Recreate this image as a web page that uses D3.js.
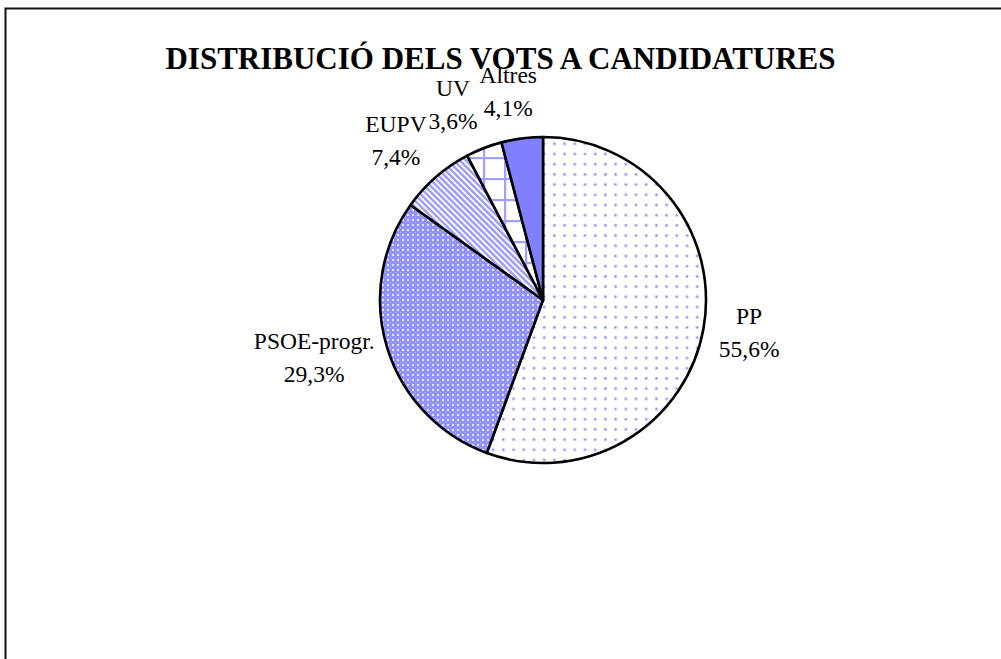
<!DOCTYPE html>
<html>
<head>
<meta charset="utf-8">
<script src="https://cdn.jsdelivr.net/npm/d3@7"></script>
<style>
  body { margin: 0; background: #fff; }
  svg { display: block; }
  text { font-family: "Liberation Serif", "Times New Roman", serif; fill: #000; }
  .title { font-size: 31px; font-weight: bold; }
  .label { font-size: 23.5px; }
</style>
</head>
<body>
<svg width="1001" height="659"></svg>
<script>
const svg = d3.select('svg');
const width = +svg.attr('width');
const height = +svg.attr('height');

// data
const categories = ['PP', 'PSOE-progr.', 'EUPV', 'UV', 'Altres'];
const shares = [55.6, 29.3, 7.4, 3.6, 4.1];
const shareLabels = ['55,6%', '29,3%', '7,4%', '3,6%', '4,1%'];
const patterns = ['dots', 'checks', 'stripes', 'grid', 'solid'];

const blue = '#8080ff';
const cx = 543, cy = 300, radius = 163;

// frame (only top and left edges fall inside the picture)
svg.append('path')
  .attr('d', `M5.5,${height + 5} V8.5 H${width + 5}`)
  .attr('fill', 'none')
  .attr('stroke', '#111')
  .attr('stroke-width', 2);

// fill patterns
const defs = svg.append('defs');

const pDots = defs.append('pattern')
  .attr('id', 'dots').attr('patternUnits', 'userSpaceOnUse')
  .attr('width', 10.2).attr('height', 10.2).attr('x', cx + 4).attr('y', 2);
pDots.append('rect').attr('width', 10.2).attr('height', 10.2).attr('fill', '#fff');
pDots.append('circle').attr('cx', 5).attr('cy', 5).attr('r', 1.8).attr('fill', '#dadaff');
pDots.append('circle').attr('cx', 5).attr('cy', 5).attr('r', 1.0).attr('fill', blue);

const pChecks = defs.append('pattern')
  .attr('id', 'checks').attr('patternUnits', 'userSpaceOnUse')
  .attr('width', 5).attr('height', 5);
pChecks.append('rect').attr('width', 5).attr('height', 5).attr('fill', '#8c8cff');
[[0, 0], [5, 0], [0, 5], [5, 5]].forEach(([x, y]) => {
  pChecks.append('circle').attr('cx', x).attr('cy', y).attr('r', 1.2).attr('fill', '#e8e8ff');
});
pChecks.append('circle').attr('cx', 2.5).attr('cy', 2.5).attr('r', 0.8).attr('fill', '#b4b4ff');

const pStripes = defs.append('pattern')
  .attr('id', 'stripes').attr('patternUnits', 'userSpaceOnUse')
  .attr('width', 4.3).attr('height', 10)
  .attr('patternTransform', 'rotate(-45)');
pStripes.append('rect').attr('width', 4.3).attr('height', 10).attr('fill', '#fff');
pStripes.append('rect').attr('width', 2.4).attr('height', 10).attr('fill', '#9a9aff');

const pGrid = defs.append('pattern')
  .attr('id', 'grid').attr('patternUnits', 'userSpaceOnUse')
  .attr('width', 21).attr('height', 21).attr('x', 3).attr('y', 4);
pGrid.append('rect').attr('width', 21).attr('height', 21).attr('fill', '#fff');
pGrid.append('rect').attr('x', 0).attr('width', 2.2).attr('height', 21).attr('fill', '#a0a0ff');
pGrid.append('rect').attr('y', 0).attr('width', 21).attr('height', 2.2).attr('fill', '#a0a0ff');

const fillFor = p => p === 'solid' ? blue : `url(#${p})`;

// title
svg.append('text')
  .attr('class', 'title')
  .attr('x', 500.5)
  .attr('y', 69)
  .attr('text-anchor', 'middle')
  .text('DISTRIBUCIÓ DELS VOTS A CANDIDATURES');

const pie = d3.pie().sort(null).value(d => d.value);
const arc = d3.arc().innerRadius(0).outerRadius(radius);

const data = categories.map((c, i) => ({
  name: c, value: shares[i], label: shareLabels[i], pattern: patterns[i]
}));
const arcs = pie(data);

const g = svg.append('g').attr('transform', `translate(${cx},${cy})`);

g.selectAll('path.slice').data(arcs)
  .enter().append('path')
    .attr('class', 'slice')
    .attr('d', arc)
    .attr('fill', d => fillFor(d.data.pattern))
    .attr('stroke', '#000')
    .attr('stroke-width', 2.6)
    .attr('stroke-linejoin', 'round');

// labels: anchored just outside the rim, box pushed outward by its half size
const labelGap = 16;
const lineStep = 33;
const boxH = 55;
const labels = g.selectAll('g.lab').data(arcs)
  .enter().append('g')
    .attr('class', 'lab');

labels.append('text').attr('class', 'label name')
  .attr('text-anchor', 'middle')
  .text(d => d.data.name);
labels.append('text').attr('class', 'label pct')
  .attr('text-anchor', 'middle')
  .text(d => d.data.label);

const boxes = [];
labels.each(function(d) {
  const sel = d3.select(this);
  const w = Math.max(
    sel.select('.name').node().getComputedTextLength(),
    sel.select('.pct').node().getComputedTextLength());
  const a = (d.startAngle + d.endAngle) / 2;
  const rr = radius + labelGap;
  boxes.push({
    sel, w, a,
    x: rr * Math.sin(a) + (w / 2) * Math.sin(a),
    y: -rr * Math.cos(a) - (boxH / 2) * Math.cos(a)
  });
});

// left-half labels: walk back from the last slice, keep boxes from overlapping
let limit = -6;
let prev = null;
for (let i = boxes.length - 1; i >= 0; i--) {
  const b = boxes[i];
  if (Math.sin(b.a) >= 0) break;
  const overlapsY = prev ? Math.abs(prev.y - b.y) < boxH : true;
  if (overlapsY && b.x + b.w / 2 > limit) b.x = limit - b.w / 2;
  limit = b.x - b.w / 2 - 2;
  prev = b;
}

boxes.forEach(b => {
  b.sel.select('.name').attr('x', b.x).attr('y', b.y - 12);
  b.sel.select('.pct').attr('x', b.x).attr('y', b.y - 12 + lineStep);
});
</script>
</body>
</html>
